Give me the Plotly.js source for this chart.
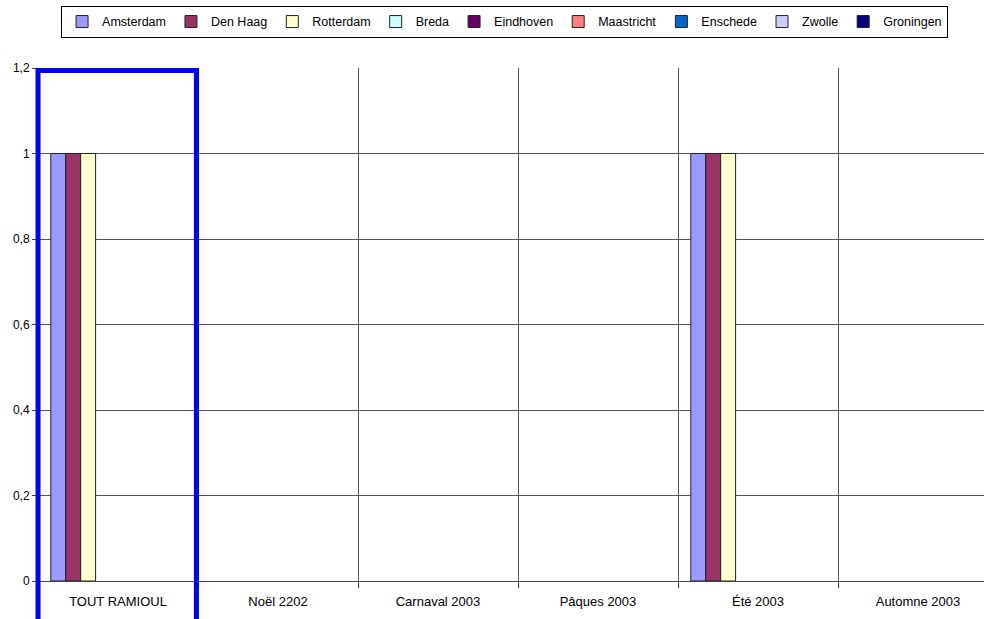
<!DOCTYPE html>
<html>
<head>
<meta charset="utf-8">
<script src="https://cdn.plot.ly/plotly-3.0.1.min.js"></script>
<style>
html,body{margin:0;padding:0;overflow:hidden;background:#fff;}
#chart{width:1000px;height:619px;}
</style>
</head>
<body>
<div id="chart"></div>
<script>
var categories = ["TOUT RAMIOUL", "Noël 2202", "Carnaval 2003", "Pâques 2003", "Été 2003", "Automne 2003"];
var seriesNames = ["Amsterdam", "Den Haag", "Rotterdam", "Breda", "Eindhoven", "Maastricht", "Enschede", "Zwolle", "Groningen"];
var amsterdam  = [1, null, null, null, 1, null];
var denHaag    = [1, null, null, null, 1, null];
var rotterdam  = [1, null, null, null, 1, null];
var breda      = [null, null, null, null, null, null];
var eindhoven  = [null, null, null, null, null, null];
var maastricht = [null, null, null, null, null, null];
var enschede   = [null, null, null, null, null, null];
var zwolle     = [null, null, null, null, null, null];
var groningen  = [null, null, null, null, null, null];
var seriesValues = [amsterdam, denHaag, rotterdam, breda, eindhoven, maastricht, enschede, zwolle, groningen];
var seriesColors = ["#9999FF", "#993366", "#FFFFCC", "#CCFFFF", "#660066", "#FF8080", "#0066CC", "#CCCCFF", "#000080"];
var yTicks = [0, 0.2, 0.4, 0.6, 0.8, 1, 1.2];

var traces = seriesNames.map(function (name, i) {
  return {
    type: "bar",
    name: name,
    x: categories,
    y: seriesValues[i],
    marker: { color: seriesColors[i], line: { color: "#222", width: 1 } },
    hoverinfo: "x+y+name"
  };
});

var layout = {
  width: 1000,
  height: 619,
  margin: { l: 38, r: 2, t: 68, b: 38 },
  paper_bgcolor: "#ffffff",
  plot_bgcolor: "#ffffff",
  separators: ",.",
  font: { family: "Liberation Sans, Arial, sans-serif", color: "#000", size: 12 },
  barmode: "group",
  bargap: 0.16,
  bargroupgap: 0,
  showlegend: true,
  legend: {
    orientation: "h",
    x: 0.486, xanchor: "center",
    y: 1.121, yanchor: "top",
    bordercolor: "#000", borderwidth: 1, bgcolor: "#fff",
    font: { size: 12.5, color: "#000" },
    itemwidth: 30,
    tracegroupgap: 0
  },
  xaxis: {
    type: "category",
    tickson: "boundaries",
    ticks: "outside",
    ticklen: 6,
    tickcolor: "#444",
    showgrid: true,
    gridcolor: "#555",
    gridwidth: 1,
    showline: true,
    linecolor: "#444",
    linewidth: 1,
    ticklabelstandoff: 8,
    tickfont: { size: 13, color: "#000" },
    fixedrange: true
  },
  yaxis: {
    range: [0, 1.2],
    tickvals: yTicks,
    ticks: "outside",
    ticklen: 5,
    tickcolor: "#444",
    showgrid: true,
    gridcolor: "#555",
    gridwidth: 1,
    showline: true,
    linecolor: "#444",
    zeroline: false,
    tickfont: { size: 12, color: "#000" },
    fixedrange: true
  },
  shapes: [{
    type: "rect",
    xref: "paper", yref: "paper",
    x0: 0, x1: 0.165,
    y0: -0.3, y1: 0.995,
    line: { color: "#0000FF", width: 5 },
    fillcolor: "rgba(0,0,0,0)",
    layer: "above"
  }]
};

Plotly.newPlot("chart", traces, layout, { displayModeBar: false, responsive: false });
</script>
</body>
</html>
